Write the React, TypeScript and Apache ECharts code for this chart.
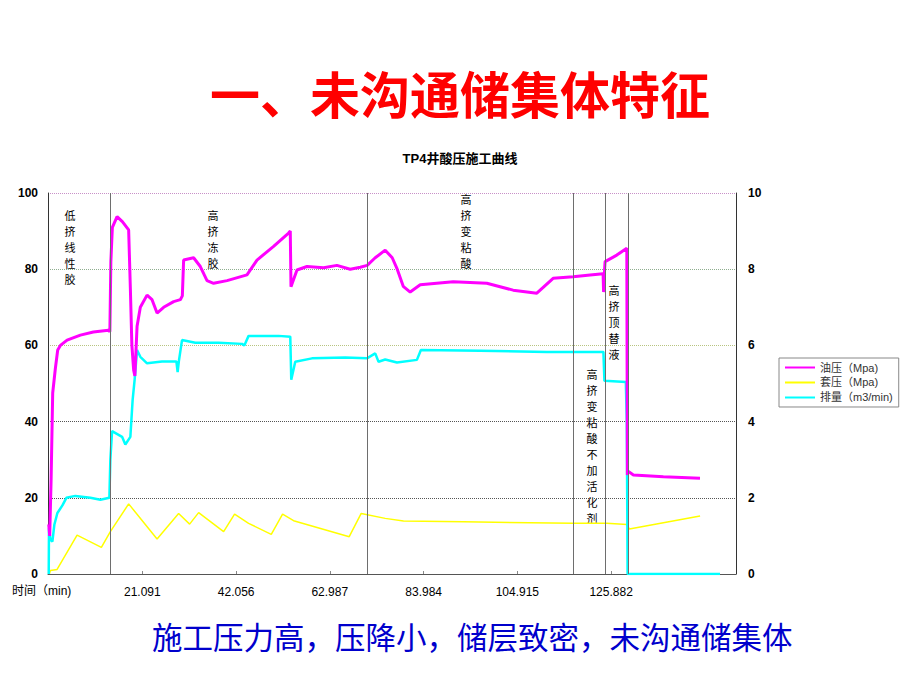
import React, { useEffect, useRef } from 'react';
import * as echarts from 'echarts';

// x-axis tick labels (min)
const timeTicks = [21.091, 42.056, 62.987, 83.984, 104.915, 125.882];
// vertical stage-change lines (min)
const eventTimes = [13.94, 71.36, 117.4, 124.5, 129.7];

// 油压 (MPa)
const oilT = [0.16, 0.38, 0.69, 1.05, 1.65, 2.17, 2.77, 4.27, 7.24, 10.14, 13.5, 13.83, 14.05, 14.39, 15.44, 16.62, 18.03, 18.41, 18.75, 19.15, 19.42, 19.91, 20.64, 22.14, 23.26, 24.38, 25.85, 28.09, 29.58, 30.03, 30.32, 32.55, 34.05, 35.55, 37.02, 40.02, 44.48, 46.72, 50.43, 53.78, 54.16, 54.32, 55.66, 57.89, 61.6, 64.59, 67.56, 69.8, 71.36, 73.15, 75.38, 76.95, 78.07, 79.41, 80.97, 83.21, 90.58, 98.1, 103.98, 109.28, 112.92, 117.39, 121.19, 124.09, 124.2, 124.43, 124.54, 127.15, 129.39, 129.52, 129.67, 130.86, 137.56, 145.75];
const oilP = [13, 10, 24.6, 47.5, 54, 58.8, 60, 61.4, 62.7, 63.5, 64, 63.6, 82, 91, 93.8, 92.5, 90.3, 75, 60, 53.5, 52, 65, 70, 73.2, 72, 68.5, 70, 71.5, 72, 73, 82.4, 83, 80.7, 77, 76.3, 77, 78.5, 82.4, 86, 89.5, 90, 75.4, 79.8, 80.7, 80.4, 81, 80, 80.5, 81, 83, 85, 83, 80, 75.5, 74, 75.9, 76.7, 76.3, 74.5, 73.7, 77.6, 78, 78.5, 78.8, 74, 80, 82, 83.7, 85.5, 26, 27, 26, 25.5, 25.1];

// 套压 (MPa)
const casingT = [0.3, 0.54, 2.03, 6.5, 11.93, 13.94, 18.03, 24.38, 29.2, 31.66, 33.67, 39.26, 41.71, 44.84, 49.91, 52.44, 54.9, 67.34, 70.02, 75.38, 79.47, 92.88, 117.46, 124.92, 129.39, 129.97, 145.77];
const casingP = [0, 0.9, 1.2, 10.2, 7, 11.1, 18.4, 9.2, 15.9, 13.1, 16.1, 11.1, 15.7, 13.3, 10.4, 15.7, 14, 9.8, 15.9, 14.6, 13.9, 13.7, 13.3, 13.3, 13, 11.8, 15.2];

// 排量 (m3/min)
const rateT = [0.16, 0.22, 0.54, 0.98, 1.43, 2.1, 3.22, 4.11, 6.12, 9.47, 11.71, 13.72, 13.94, 14.32, 16.56, 17.29, 18.41, 18.92, 19.37, 19.91, 20.64, 22.14, 25.49, 28.7, 28.98, 29.25, 29.96, 32.93, 38.14, 43.37, 43.89, 44.84, 51.55, 54.16, 54.38, 55.27, 59.01, 66.45, 71.3, 73.15, 73.89, 75.38, 78.01, 82.47, 83.36, 96.61, 111.51, 124.16, 124.39, 129.17, 129.39, 129.57, 150.23];
const rateQ = [0, 1.2, 0.9, 0.85, 1.3, 1.6, 1.8, 2.0, 2.05, 2.0, 1.95, 2.0, 3.0, 3.75, 3.6, 3.4, 3.6, 4.57, 5.1, 5.88, 5.7, 5.53, 5.58, 5.58, 5.3, 5.58, 6.14, 6.07, 6.07, 6.04, 6.0, 6.25, 6.25, 6.23, 5.1, 5.57, 5.66, 5.68, 5.66, 5.79, 5.57, 5.63, 5.55, 5.62, 5.88, 5.86, 5.83, 5.83, 5.07, 5.04, 4.0, 0, 0];

const leftTicks = [0, 20, 40, 60, 80, 100];
const rightTicks = [0, 2, 4, 6, 8, 10];

const zip = (a: number[], b: number[]) => a.map((t, i) => [t, b[i]]);

const CJK = '"Noto Sans CJK SC", sans-serif';
const LAT = '"Liberation Sans", "Noto Sans CJK SC", sans-serif';

export default function App() {
  const ref = useRef<HTMLDivElement>(null);
  useEffect(() => {
    document.body.style.margin = '0';
    const chart = echarts.init(ref.current!, null, { renderer: 'svg' });
    // vertical annotation: one text element per character
    const annot = (text: string, x: number, y: number) => ({
      type: 'group',
      silent: true,
      z: 100,
      children: text.split('').map((ch, i) => ({
        type: 'text',
        x,
        y: y + i * 16,
        silent: true,
        style: {
          text: ch,
          fill: '#000',
          fontSize: 11,
          fontFamily: CJK,
          align: 'center',
          verticalAlign: 'top',
        },
      })),
    });
    chart.setOption({
      animation: false,
      backgroundColor: '#fff',
      title: [
        {
          text: '一、未沟通储集体特征',
          left: 'center',
          top: 62,
          textStyle: { color: '#ff0000', fontSize: 50, fontWeight: 'bold', fontFamily: CJK },
        },
        {
          text: 'TP4井酸压施工曲线',
          left: 'center',
          top: 147,
          textStyle: { color: '#000', fontSize: 13, fontWeight: 'bold', fontFamily: LAT },
        },
        {
          text: '施工压力高，压降小，储层致密，未沟通储集体',
          left: 152,
          top: 621,
          padding: 0,
          textStyle: { color: '#0000cc', fontSize: 30.5, fontWeight: 'normal', fontFamily: CJK },
        },
      ],
      legend: {
        orient: 'vertical',
        left: 779,
        top: 358,
        padding: [4, 6, 4, 6],
        itemGap: 4,
        itemWidth: 30,
        itemHeight: 2,
        icon: 'rect',
        borderColor: '#888',
        borderWidth: 1,
        textStyle: { fontSize: 11, color: '#333', fontFamily: LAT },
        data: ['油压（Mpa)', '套压（Mpa)', '排量（m3/min)'],
      },
      grid: { left: 48, right: 184, top: 193, bottom: 116, containLabel: false },
      xAxis: {
        type: 'value',
        min: 0,
        max: 153.8,
        axisLine: { show: true, lineStyle: { color: '#555', width: 1 } },
        axisTick: {
          show: true,
          inside: true,
          length: 3,
          customValues: timeTicks,
          lineStyle: { color: '#888' },
        },
        axisLabel: {
          customValues: timeTicks,
          formatter: (v: number) => v.toFixed(3),
          color: '#000',
          fontSize: 12,
          fontFamily: LAT,
          margin: 12,
        },
        splitLine: { show: false },
      },
      yAxis: [
        {
          type: 'value',
          min: 0,
          max: 100,
          interval: 20,
          axisLine: { show: true, lineStyle: { color: '#333' } },
          axisTick: { show: false },
          axisLabel: {
            customValues: leftTicks,
            color: '#000',
            fontSize: 12,
            fontWeight: 'bold',
            fontFamily: LAT,
            margin: 10,
          },
          splitLine: {
            show: true,
            lineStyle: {
              type: 'dotted',
              width: 1,
              color: ['#555', '#555', '#555', '#b8c480', '#8fae8f', '#c890c8'],
            },
          },
        },
        {
          type: 'value',
          min: 0,
          max: 10,
          interval: 2,
          position: 'right',
          axisLine: { show: true, lineStyle: { color: '#333' } },
          axisTick: { show: false },
          axisLabel: {
            customValues: rightTicks,
            color: '#000',
            fontSize: 12,
            fontWeight: 'bold',
            fontFamily: LAT,
            margin: 12,
          },
          splitLine: { show: false },
        },
      ],
      graphic: [
        {
          type: 'text',
          left: 12,
          top: 585,
          silent: true,
          style: { text: '时间（min)', fill: '#000', fontSize: 12, fontFamily: LAT },
        },
        annot('低挤线性胶', 70, 209),
        annot('高挤冻胶', 213, 209),
        annot('高挤变粘酸', 466, 193),
        annot('高挤顶替液', 614, 284),
        annot('高挤变粘酸不加活化剂', 592, 368),
      ],
      series: [
        {
          name: '油压（Mpa)',
          type: 'line',
          yAxisIndex: 0,
          data: zip(oilT, oilP),
          showSymbol: false,
          symbol: 'none',
          z: 4,
          lineStyle: { color: '#ff00ff', width: 3 },
          itemStyle: { color: '#ff00ff' },
        },
        {
          name: '套压（Mpa)',
          type: 'line',
          yAxisIndex: 0,
          data: zip(casingT, casingP),
          showSymbol: false,
          symbol: 'none',
          z: 3,
          lineStyle: { color: '#ffff00', width: 1.5 },
          itemStyle: { color: '#ffff00' },
          markLine: {
            silent: true,
            symbol: ['none', 'none'],
            label: { show: false },
            lineStyle: { color: '#6e6e6e', type: 'solid', width: 1 },
            data: eventTimes.map((t) => ({ xAxis: t })),
          },
        },
        {
          name: '排量（m3/min)',
          type: 'line',
          yAxisIndex: 1,
          data: zip(rateT, rateQ),
          showSymbol: false,
          symbol: 'none',
          z: 3,
          lineStyle: { color: '#00ffff', width: 2.5 },
          itemStyle: { color: '#00ffff' },
        },
      ],
    });
    return () => chart.dispose();
  }, []);
  return <div ref={ref} style={{ width: 920, height: 690 }} />;
}
